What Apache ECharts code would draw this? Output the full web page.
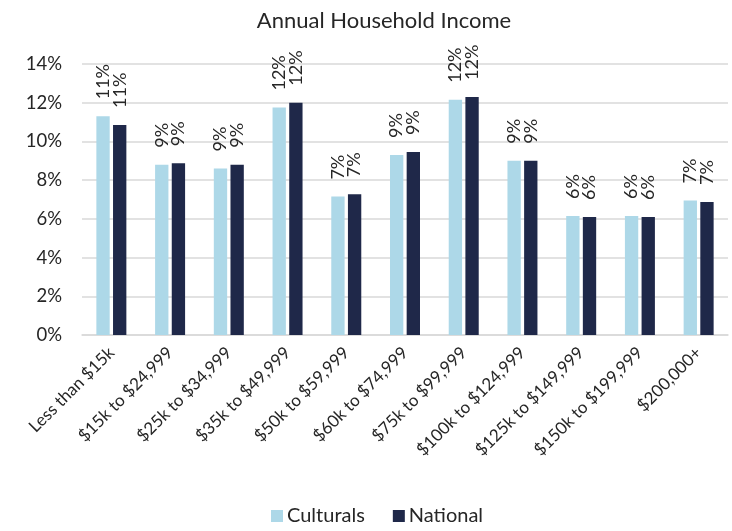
<!DOCTYPE html>
<html>
<head>
<meta charset="utf-8">
<script src="https://cdn.jsdelivr.net/npm/echarts@6/dist/echarts.min.js"></script>
<style>
  html, body { margin: 0; padding: 0; background: #fff; }
  #chart { width: 732px; height: 531px; }
</style>
</head>
<body>
<div id="chart"></div>
<script>
// Income brackets along the x axis
const categories = [
  'Less than $15k', '$15k to $24,999', '$25k to $34,999', '$35k to $49,999',
  '$50k to $59,999', '$60k to $74,999', '$75k to $99,999', '$100k to $124,999',
  '$125k to $149,999', '$150k to $199,999', '$200,000+'
];

// Share of households in each bracket (percent)
const culturals = [11.3, 8.8, 8.6, 11.75, 7.15, 9.3, 12.15, 9.0, 6.15, 6.15, 6.95];
const national  = [10.85, 8.87, 8.8, 12.0, 7.27, 9.45, 12.3, 9.0, 6.1, 6.1, 6.87];

// Value axis ticks
const yMin = 0, yMax = 14, yStep = 2;

const FONT = 'Lato';
const INK = '#262626';

const chart = echarts.init(document.getElementById('chart'));

const barLabel = {
  show: true,
  position: 'top',
  rotate: 90,
  align: 'left',
  verticalAlign: 'middle',
  distance: 17,
  fontFamily: FONT,
  fontSize: 18,
  color: INK,
  formatter: p => Math.round(p.value) + '%'
};

chart.setOption({
  animation: false,
  textStyle: { fontFamily: FONT },
  title: {
    text: 'Annual Household Income',
    left: 379,
    textAlign: 'center',
    top: 5,
    textStyle: { fontFamily: FONT, fontSize: 22, fontWeight: 'normal', color: INK }
  },
  legend: {
    bottom: 0,
    left: 266,
    itemWidth: 12,
    itemHeight: 12,
    itemGap: 28,
    icon: 'rect',
    textStyle: { fontFamily: FONT, fontSize: 20, color: INK, padding: [0, 0, 0, -1] },
    data: ['Culturals', 'National']
  },
  grid: { left: 82, right: 4, top: 64, bottom: 196, containLabel: false },
  xAxis: {
    type: 'category',
    data: categories,
    axisTick: { show: false },
    axisLine: { show: true, lineStyle: { color: '#D9D9D9', width: 1.5 } },
    axisLabel: {
      rotate: 45,
      interval: 0,
      margin: 15,
      fontFamily: FONT,
      fontSize: 17,
      color: INK
    }
  },
  yAxis: {
    type: 'value',
    min: yMin,
    max: yMax,
    interval: yStep,
    axisLine: { show: false },
    axisTick: { show: false },
    splitLine: { lineStyle: { color: '#D9D9D9', width: 1.5 } },
    axisLabel: {
      formatter: '{value}%',
      margin: 20,
      fontFamily: FONT,
      fontSize: 18.5,
      color: INK
    }
  },
  series: [
    {
      name: 'Culturals',
      type: 'bar',
      data: culturals,
      barWidth: '22.7%',
      barGap: '25%',
      itemStyle: { color: '#ADD8E8' },
      label: barLabel
    },
    {
      name: 'National',
      type: 'bar',
      data: national,
      barWidth: '22.7%',
      itemStyle: { color: '#1F2849' },
      label: barLabel
    }
  ]
});
</script>
</body>
</html>
